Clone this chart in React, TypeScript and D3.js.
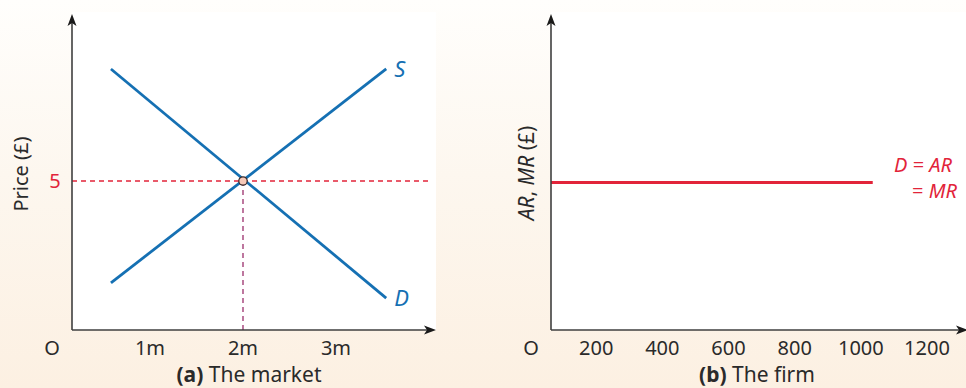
import React from "react";
import * as d3 from "d3";

const W = 966;
const H = 388;

// Panel (a) market data
const marketTicks = [1, 2, 3];
const marketTickLabels = ["1m", "2m", "3m"];
const supplyPts = [
  { q: 0.58, p: 1.58 },
  { q: 3.54, p: 8.76 },
];
const demandPts = [
  { q: 0.58, p: 8.76 },
  { q: 3.54, p: 1.07 },
];
const eqQ = 2;
const eqP = 5;
const priceTicks = [5];

// Panel (b) firm data
const firmTicks = [200, 400, 600, 800, 1000, 1200];
const firmPrice = 5;
const firmLineEndQ = 1036;

const FONT = "'Noto Sans', 'Open Sans', sans-serif";
const BLUE = "#1570b3";
const RED = "#e2243a";
const PURPLE = "#9b2e6c";
const AXIS = "#3f3f3f";

export default function App() {
  const axisY = 330;
  const topY = 12;
  const yScale = d3.scaleLinear().domain([0, 10]).range([330, 32]);

  // panel a
  const aAxisX = 72;
  const aRight = 436;
  const xa = d3.scaleLinear().domain([0, 3]).range([57, 336]);
  const line = d3
    .line<{ q: number; p: number }>()
    .x((d) => xa(d.q))
    .y((d) => yScale(d.p));

  // panel b
  const bAxisX = 551;
  const bRight = 966;
  const xb = d3.scaleLinear().domain([0, 1200]).range([530, 927]);

  const arrowUp = (x: number) =>
    `M${x},${topY + 2} L${x - 4.5},${topY + 14} L${x},${topY + 11} L${x + 4.5},${topY + 14} Z`;
  const arrowRight = (x: number) =>
    `M${x},${axisY} L${x - 12},${axisY - 4.5} L${x - 9},${axisY} L${x - 12},${axisY + 4.5} Z`;

  const tickStyle: React.CSSProperties = { fontFamily: FONT, fontSize: 20, fill: "#2a2a2a" };

  return (
    <svg width={W} height={H} style={{ position: "absolute", left: 0, top: 0 }}>
      <defs>
        <linearGradient id="bg" x1="0" y1="0" x2="0" y2="1">
          <stop offset="0" stopColor="#fffefc" />
          <stop offset="0.45" stopColor="#fdf7ef" />
          <stop offset="1" stopColor="#fcf0e2" />
        </linearGradient>
      </defs>
      <rect x={0} y={0} width={W} height={H} fill="url(#bg)" />

      {/* Panel a */}
      <rect x={aAxisX} y={topY} width={aRight - aAxisX} height={axisY - topY} fill="#ffffff" />
      <line
        x1={aAxisX}
        x2={430}
        y1={yScale(eqP)}
        y2={yScale(eqP)}
        stroke={RED}
        strokeWidth={1.3}
        strokeDasharray="5,4"
      />
      <line
        x1={xa(eqQ)}
        x2={xa(eqQ)}
        y1={yScale(eqP)}
        y2={axisY}
        stroke={PURPLE}
        strokeWidth={1.3}
        strokeDasharray="5,4"
      />
      <path d={line(supplyPts) || ""} fill="none" stroke={BLUE} strokeWidth={2.8} />
      <path d={line(demandPts) || ""} fill="none" stroke={BLUE} strokeWidth={2.8} />
      <circle cx={xa(eqQ)} cy={yScale(eqP)} r={4.2} fill="#f6c9b8" stroke="#3a2a2a" strokeWidth={1.2} />
      <text
        x={xa(supplyPts[1].q) + 8}
        y={yScale(supplyPts[1].p) + 8}
        style={{ fontFamily: FONT, fontSize: 22, fontStyle: "italic", fill: BLUE }}
      >
        S
      </text>
      <text
        x={xa(demandPts[1].q) + 8}
        y={yScale(demandPts[1].p) + 8}
        style={{ fontFamily: FONT, fontSize: 22, fontStyle: "italic", fill: BLUE }}
      >
        D
      </text>

      <line x1={aAxisX} x2={aAxisX} y1={topY + 8} y2={axisY} stroke={AXIS} strokeWidth={1.6} />
      <line x1={aAxisX} x2={aRight - 6} y1={axisY} y2={axisY} stroke={AXIS} strokeWidth={1.6} />
      <path d={arrowUp(aAxisX)} fill="#1a1a1a" />
      <path d={arrowRight(aRight)} fill="#1a1a1a" />

      <text x={aAxisX - 20} y={axisY + 25} textAnchor="middle" style={tickStyle}>
        O
      </text>
      {marketTicks.map((t, i) => (
        <text key={t} x={xa(t)} y={axisY + 25} textAnchor="middle" style={tickStyle}>
          {marketTickLabels[i]}
        </text>
      ))}
      {priceTicks.map((p) => (
        <text
          key={p}
          x={aAxisX - 17}
          y={yScale(p) + 7}
          textAnchor="middle"
          style={{ ...tickStyle, fill: RED }}
        >
          {p}
        </text>
      ))}
      <text
        transform={`translate(28,174) rotate(-90)`}
        textAnchor="middle"
        style={{ fontFamily: FONT, fontSize: 20, fill: "#2a2a2a" }}
      >
        Price (£)
      </text>
      <text x={249} y={382} textAnchor="middle" style={{ fontFamily: FONT, fontSize: 21, fill: "#2a2a2a" }}>
        <tspan fontWeight="bold">(a)</tspan> The market
      </text>

      {/* Panel b */}
      <rect x={bAxisX} y={topY} width={bRight - bAxisX} height={axisY - topY} fill="#ffffff" />
      <line
        x1={bAxisX}
        x2={xb(firmLineEndQ)}
        y1={yScale(firmPrice) + 1.5}
        y2={yScale(firmPrice) + 1.5}
        stroke={RED}
        strokeWidth={2.8}
      />
      <text
        x={952}
        y={172}
        textAnchor="end"
        style={{ fontFamily: FONT, fontSize: 20, fill: RED }}
      >
        <tspan fontStyle="italic">D</tspan> = <tspan fontStyle="italic">AR</tspan>
      </text>
      <text
        x={957}
        y={198}
        textAnchor="end"
        style={{ fontFamily: FONT, fontSize: 20, fill: RED }}
      >
        = <tspan fontStyle="italic">MR</tspan>
      </text>

      <line x1={bAxisX} x2={bAxisX} y1={topY + 8} y2={axisY} stroke={AXIS} strokeWidth={1.6} />
      <line x1={bAxisX} x2={bRight - 4} y1={axisY} y2={axisY} stroke={AXIS} strokeWidth={1.6} />
      <path d={arrowUp(bAxisX)} fill="#1a1a1a" />
      <path d={arrowRight(bRight + 2)} fill="#1a1a1a" />

      <text x={bAxisX - 20} y={axisY + 25} textAnchor="middle" style={tickStyle}>
        O
      </text>
      {firmTicks.map((t) => (
        <text key={t} x={xb(t)} y={axisY + 25} textAnchor="middle" style={tickStyle}>
          {t}
        </text>
      ))}
      <text
        transform={`translate(534,173) rotate(-90)`}
        textAnchor="middle"
        style={{ fontFamily: FONT, fontSize: 21, fill: "#2a2a2a" }}
      >
        <tspan fontStyle="italic">AR</tspan>, <tspan fontStyle="italic">MR</tspan> (£)
      </text>
      <text x={757} y={382} textAnchor="middle" style={{ fontFamily: FONT, fontSize: 21, fill: "#2a2a2a" }}>
        <tspan fontWeight="bold">(b)</tspan> The firm
      </text>
    </svg>
  );
}
